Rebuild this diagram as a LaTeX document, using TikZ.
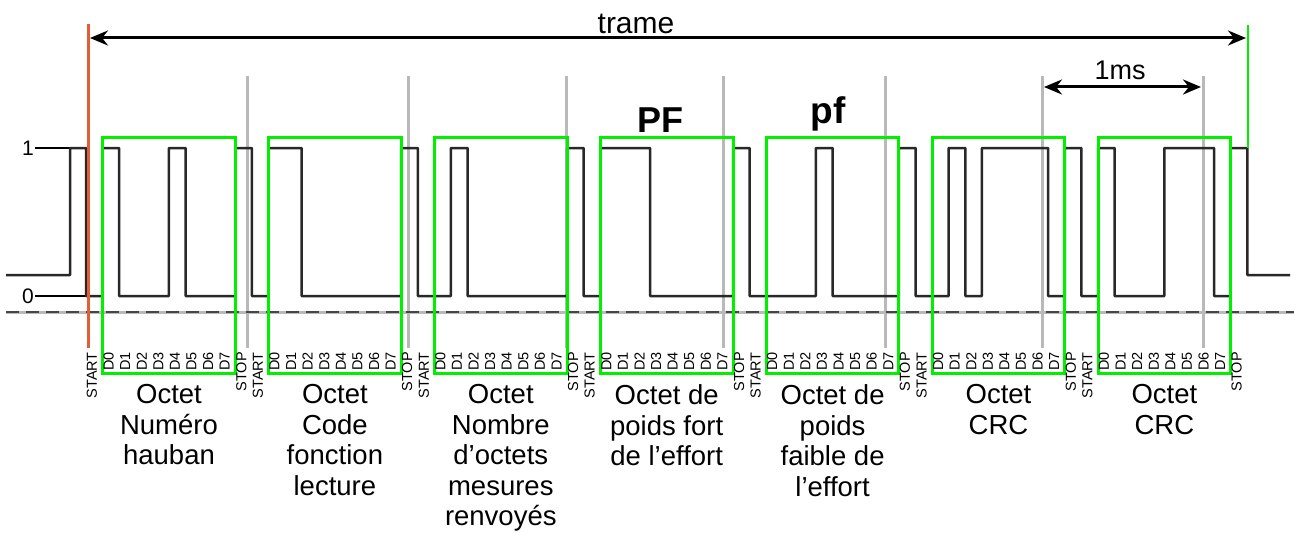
\documentclass[tikz,border=0pt]{standalone}
\usepackage{fontspec}
\setmainfont{Liberation Sans}
\usetikzlibrary{arrows.meta}
\definecolor{wavec}{RGB}{40,40,40}
\definecolor{redc}{RGB}{226,92,52}
\definecolor{boxgreen}{RGB}{0,240,0}
\definecolor{guidec}{RGB}{185,185,185}
\definecolor{dashc}{RGB}{70,70,70}
\begin{document}
\begin{tikzpicture}[x=1pt,y=-1pt,
  wave/.style={draw=wavec, line width=2.5pt, line join=round},
  bytebox/.style={draw=boxgreen, line width=3pt, minimum width=132.7pt, minimum height=236pt, inner sep=0pt},
  guideline/.style={draw=guidec, line width=3pt},
  bitlbl/.style={rotate=90, anchor=east, inner sep=0pt, font=\fontsize{14.5}{14.5}\selectfont},
  desc/.style={anchor=north, inner sep=0pt, align=center, font=\fontsize{27.5}{30.5}\selectfont},
  dimarrow/.style={draw=black, line width=3pt, {Stealth[length=18pt,width=15pt]}-{Stealth[length=18pt,width=15pt]}},
  levellbl/.style={inner sep=1pt, font=\fontsize{21}{21}\selectfont},
  tick/.style={draw=black, line width=2.5pt},
]
\useasboundingbox (0,0) rectangle (1294,535);
\fill[white] (0,0) rectangle (1294,535);

% guide lines (gray)
\foreach \gx [count=\i] in {247,408,566,723,885,1042,1203} {
  \coordinate (gt\i) at (\gx,76);
  \coordinate (gb\i) at (\gx,348);
  \draw[guideline] (gt\i) -- (gb\i);
}

% baseline dashed
\coordinate (dl) at (6,312);
\coordinate (dr) at (1294,312);
\draw[draw=guidec, line width=3pt] (dl) -- (dr);
\draw[draw=dashc, line width=2pt, dash pattern=on 13pt off 7pt] (dl) -- (dr);

% level labels
\node[levellbl] (one) at (28,148) {1};
\node[levellbl] (zero) at (28,296) {0};
\coordinate (w1) at (70,148);
\coordinate (w0) at (86,296);
\draw[tick] (one.east) -- (w1);
\draw[tick] (zero.east) -- (w0);

% waveform
\draw[wave] (6,275) -- (70,275) -- (70,148) -- (86,148)
  \foreach \b [count=\j from 0] in {
    0,1,0,0,0,1,0,0,0,1,
    0,1,1,0,0,0,0,0,0,1,
    0,0,1,0,0,0,0,0,0,1,
    0,1,1,1,0,0,0,0,0,1,
    0,0,0,0,1,0,0,0,0,1,
    0,0,1,0,1,1,1,1,0,1,
    0,1,0,0,0,1,1,1,0,1} {
    -- ({86+16.59*\j},{296-148*\b}) -- ({86+16.59*(\j+1)},{296-148*\b})
  }
  -- (1247.3,275) -- (1290,275);

% byte boxes
\foreach \k in {0,...,6} {
  \node[bytebox] (box\k) at ({169+165.9*\k},255) {};
}

% bit labels
\foreach \k in {0,...,6} {
  \foreach \t [count=\i from 0] in {START,D0,D1,D2,D3,D4,D5,D6,D7,STOP} {
    \node[bitlbl] (bit\k-\i) at ({92+16.59*(10*\k+\i)},352) {\t};
  }
}

% descriptions
\node[desc] (d0) at ([yshift=-10pt]box0.south) {Octet\\Numéro\\hauban};
\node[desc] (d1) at ([yshift=-10pt]box1.south) {Octet\\Code\\fonction\\lecture};
\node[desc] (d2) at ([yshift=-10pt]box2.south) {Octet\\Nombre\\d’octets\\mesures\\renvoyés};
\node[desc] (d3) at ([yshift=-10pt]box3.south) {Octet de\\poids fort\\de l’effort};
\node[desc] (d4) at ([yshift=-10pt]box4.south) {Octet de\\poids\\faible de\\l’effort};
\node[desc] (d5) at ([yshift=-10pt]box5.south) {Octet\\CRC};
\node[desc] (d6) at ([yshift=-10pt]box6.south) {Octet\\CRC};

% PF / pf
\node[anchor=base, inner sep=0pt, font=\fontsize{36}{36}\selectfont\bfseries] (PF) at (660,132) {PF};
\node[anchor=base, inner sep=0pt, font=\fontsize{37}{37}\selectfont\bfseries] (pf) at (828,123) {pf};

% red start line and green end line
\coordinate (rt) at (88,24);
\coordinate (rb) at (88,348);
\draw[draw=redc, line width=3pt] (rt) -- (rb);
\coordinate (gt) at (1248,25);
\coordinate (gb) at (1248,148);
\draw[draw=boxgreen, line width=2.5pt] (gt) -- (gb);

% trame arrow
\coordinate (tl) at (90,38);
\coordinate (tr) at (1246,38);
\draw[dimarrow] (tl) -- (tr);
\node[anchor=base, inner sep=0pt, font=\fontsize{30}{30}\selectfont] (trame) at (636,34) {trame};

% 1ms arrow
\coordinate (ms1) at (1044,87);
\coordinate (ms2) at (1201,87);
\draw[dimarrow] (ms1) -- (ms2);
\node[anchor=base, inner sep=0pt, font=\fontsize{27}{27}\selectfont] (ms) at (1120,80) {1ms};
\end{tikzpicture}
\end{document}
